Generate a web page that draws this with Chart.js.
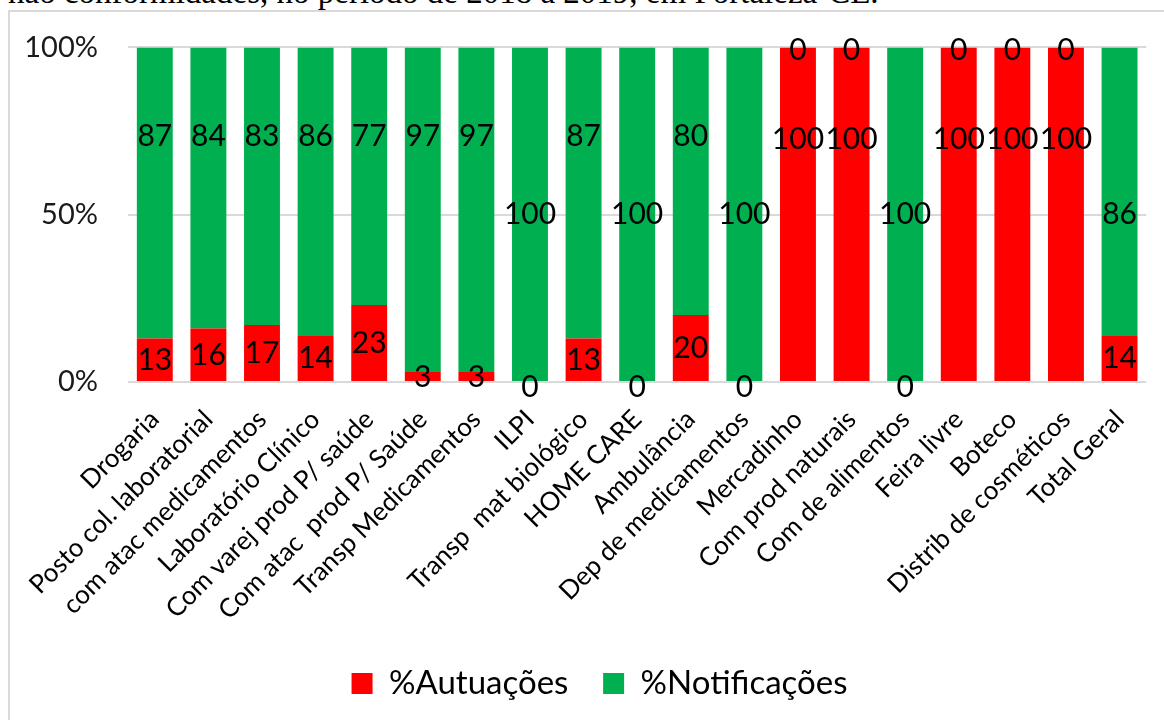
<!DOCTYPE html>
<html>
<head>
<meta charset="utf-8">
<script src="https://cdn.jsdelivr.net/npm/chart.js@4.4.0/dist/chart.umd.min.js"></script>
<style>
  body { margin: 0; background: #fff; width: 1164px; height: 720px; overflow: hidden; position: relative; }
  #caption { position: absolute; left: 8px; top: -24px; font: 33px/33px "Liberation Serif", serif; white-space: nowrap; color: #000; }
  #frame { position: absolute; left: 8px; top: 10px; width: 1300px; height: 900px; border: 2px solid #d9d9d9; }
  canvas { position: absolute; left: 0; top: 0; }
</style>
</head>
<body>
<div id="caption">não conformidades, no período de 2018 a 2019, em Fortaleza-CE.</div>
<div id="frame"></div>
<canvas id="chart" width="1164" height="720"></canvas>
<script>
const categories = [
  'Drogaria', 'Posto col. laboratorial', 'com atac medicamentos', 'Laboratório Clínico',
  'Com varej prod P/ saúde', 'Com atac  prod P/ Saúde', 'Transp Medicamentos', 'ILPI',
  'Transp  mat biológico', 'HOME CARE', 'Ambulância', 'Dep de medicamentos', 'Mercadinho',
  'Com prod naturais', 'Com de alimentos', 'Feira livre', 'Boteco', 'Distrib de cosméticos',
  'Total Geral'
];
const autuacoes = [13, 16, 17, 14, 23, 3, 3, 0, 13, 0, 20, 0, 100, 100, 0, 100, 100, 100, 14];
const notificacoes = [87, 84, 83, 86, 77, 97, 97, 100, 87, 100, 80, 100, 0, 0, 100, 0, 0, 0, 86];
const yTicks = [0, 50, 100];

// value labels, placed roughly where the excel chart had them
const barLabels = {
  id: 'barLabels',
  afterDatasetsDraw(chart) {
    const ctx = chart.ctx;
    const y = chart.scales.y;
    ctx.save();
    ctx.font = '30px Lato';
    ctx.fillStyle = '#000';
    ctx.textAlign = 'center';
    ctx.textBaseline = 'middle';
    chart.data.datasets.forEach((ds, di) => {
      chart.getDatasetMeta(di).data.forEach((bar, i) => {
        const v = ds.data[i];
        let at, shift = 0;
        if (di === 0) {
          if (v === 0) { at = 0; shift = 5; }
          else if (v === 100) at = 72.5;
          else at = v / 2;
        } else {
          if (v === 0) { at = 100; shift = 3; }
          else if (v === 100 || categories[i] === 'Total Geral') at = 50;
          else at = 73.5;
        }
        ctx.fillText(String(v), bar.x, y.getPixelForValue(at) + shift);
      });
    });
    ctx.restore();
  }
};

// legend sits a bit right of the canvas centre in the original
const legendShift = {
  id: 'legendShift',
  afterLayout(chart) {
    chart.legend.left += 20;
    chart.legend.right += 20;
  }
};

const ctx = document.getElementById('chart').getContext('2d');
new Chart(ctx, {
  type: 'bar',
  data: {
    labels: categories,
    datasets: [
      { label: '%Autuações', data: autuacoes, backgroundColor: '#FF0000', borderWidth: 0 },
      { label: '%Notificações', data: notificacoes, backgroundColor: '#00B050', borderWidth: 0 }
    ]
  },
  options: {
    responsive: false,
    animation: false,
    devicePixelRatio: 1,
    layout: { padding: { left: 10, right: 15, top: 39, bottom: 10 } },
    datasets: { bar: { categoryPercentage: 1, barPercentage: 0.67 } },
    scales: {
      x: {
        stacked: true,
        grid: { display: false, drawTicks: false },
        border: { display: false },
        ticks: {
          autoSkip: false, maxRotation: 45, minRotation: 45, padding: 22,
          color: '#000', font: { family: 'Lato', size: 26 }
        },
        afterFit(scale) { scale.height = 275; }
      },
      y: {
        stacked: true,
        min: 0, max: 100,
        afterBuildTicks(scale) { scale.ticks = yTicks.map(v => ({ value: v })); },
        grid: { color: '#d9d9d9', lineWidth: 2, drawTicks: false },
        border: { display: false },
        ticks: {
          padding: 30, color: '#1a1a1a', font: { family: 'Lato', size: 29 },
          callback: v => v + '%'
        },
        afterFit(scale) { scale.width = 118; }
      }
    },
    plugins: {
      tooltip: { enabled: false },
      legend: {
        position: 'bottom',
        labels: {
          boxWidth: 21, boxHeight: 21, padding: 10, color: '#000',
          font: { family: 'Lato', size: 33 },
          generateLabels(chart) {
            const items = Chart.defaults.plugins.legend.labels.generateLabels(chart);
            items[0].text += '\u2003';
            return items;
          }
        }
      }
    }
  },
  plugins: [barLabels, legendShift]
});
</script>
</body>
</html>
